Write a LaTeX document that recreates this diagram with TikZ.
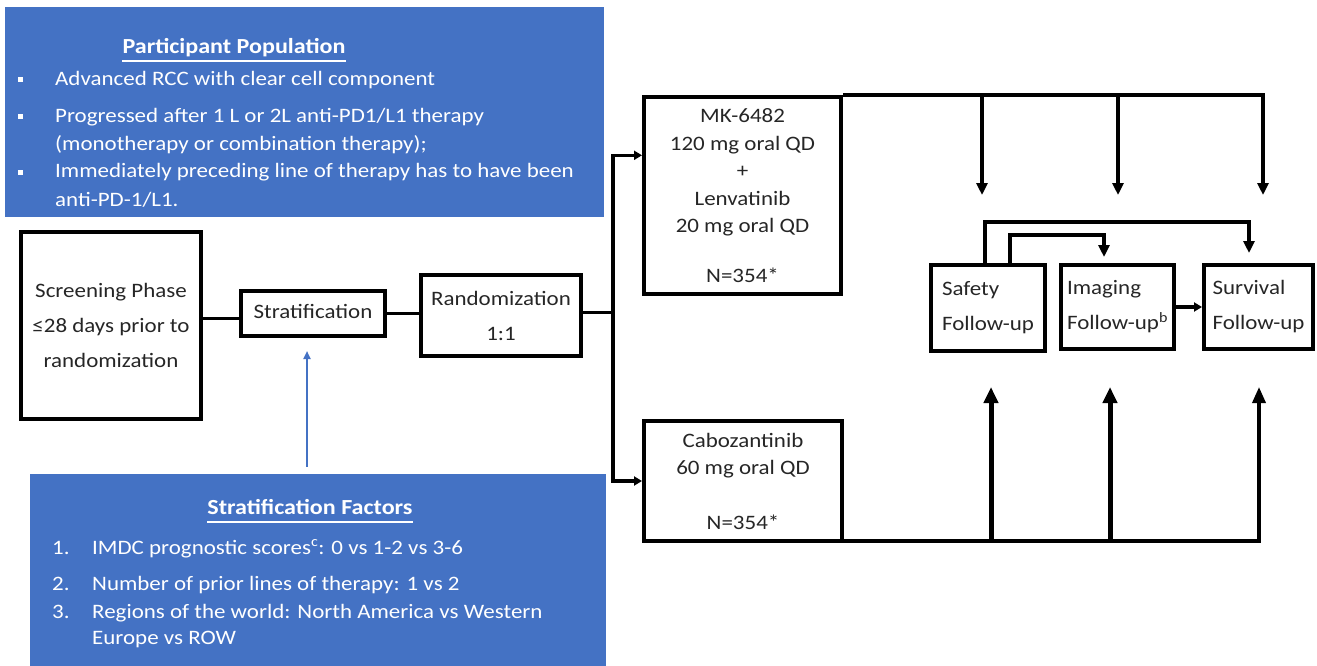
\documentclass[tikz,border=0pt]{standalone}
\usepackage{fontspec}
\setmainfont{Carlito}[FakeStretch=1.12]
\usetikzlibrary{arrows.meta,calc}
\definecolor{ob}{HTML}{4472C4}
\definecolor{txt}{HTML}{262626}
\newcommand{\fsz}[1]{\fontsize{20.5}{#1}\selectfont}
\begin{document}
\begin{tikzpicture}[x=1pt,y=-1pt,
  box/.style={draw=black,line width=4pt,align=center,text=txt,inner sep=0pt},
  conn/.style={line width=3.5pt,draw=black},
  arr/.style={conn,-{Triangle[width=11pt,length=12pt]}},
  arrsmall/.style={conn,-{Triangle[width=9pt,length=8pt]}},
  arrbig/.style={line width=5pt,draw=black,-{Triangle[width=14pt,length=16pt]}},
  arrthin/.style={line width=3.5pt,draw=black,-{Triangle[width=13pt,length=16pt]}},
  wt/.style={text=white,font=\fsz{27},inner sep=0pt,anchor=base west},
  bul/.style={fill=white,minimum size=5pt,inner sep=0pt},
  panel/.style={fill=ob,inner sep=0pt}]
\useasboundingbox (0,0) rectangle (1317,666);

% panels
\node[panel,minimum width=599pt,minimum height=210pt] (pp) at (304.5,112) {};
\node[panel,minimum width=576pt,minimum height=196pt] (sf) at (318,572) {};

% participant population
\node[wt,anchor=base,font=\fontsize{21.5}{27}\selectfont\bfseries] (ptitle) at (234,54) {Participant Population};
\draw[white,line width=1.5pt] ([yshift=-7pt]ptitle.base west) -- ([yshift=-7pt]ptitle.base east);
\node[bul] (b1) at (20,80) {};
\node[bul] (b2) at (20,117) {};
\node[bul] (b3) at (20,172) {};
\node[wt] (p1) at (55,86) {Advanced RCC with clear cell component};
\node[wt] (p2) at (55,123) {Progressed after 1 L or 2L anti-PD1/L1 therapy};
\node[wt] (p3) at (55,150) {(monotherapy or combination therapy);};
\node[wt] (p4) at (55,178) {Immediately preceding line of therapy has to have been};
\node[wt] (p5) at (55,206) {anti-PD-1/L1.};

% stratification factors
\node[wt,anchor=base,font=\fontsize{21.5}{27}\selectfont\bfseries] (stitle) at (310,514) {Stratification Factors};
\draw[white,line width=1.5pt] ([yshift=-8pt]stitle.base west) -- ([yshift=-8pt]stitle.base east);
\node[wt] (n1) at (52,554) {1.};
\node[wt] (n2) at (52,590) {2.};
\node[wt] (n3) at (52,618) {3.};
\node[wt] (s1) at (92,554) {IMDC prognostic scores\textsuperscript{c}: 0 vs 1-2 vs 3-6};
\node[wt] (s2) at (92,590) {Number of prior lines of therapy: 1 vs 2};
\node[wt] (s3) at (92,618) {Regions of the world: North America vs Western};
\node[wt] (s4) at (92,644) {Europe vs ROW};

% boxes
\node[box,font=\fsz{35},minimum width=180pt,minimum height=187pt] (scr) at (111,325.5)
  {Screening Phase\\≤28 days prior to\\randomization};
\node[box,font=\fsz{35},minimum width=144pt,minimum height=45pt] (strat) at (313,313.5) {\raisebox{5pt}{Stratification}};
\node[box,font=\fsz{35},minimum width=160pt,minimum height=81pt] (rand) at (501,315.5) {Randomization\\1:1};
\node[box,font=\fsz{27.5},minimum width=197pt,minimum height=197pt] (mk) at (742.5,195.5)
  {MK-6482\\120 mg oral QD\\+\\Lenvatinib\\20 mg oral QD\\[22pt]N=354*};
\node[box,font=\fsz{27},minimum width=198pt,minimum height=120pt] (cabo) at (743,481)
  {Cabozantinib\\60 mg oral QD\\[28pt]N=354*};
\node[box,font=\fsz{35},align=left,minimum width=114pt,minimum height=86pt] (safe) at (988,308) {Safety\\Follow-up};
\node[box,font=\fsz{35},align=left,minimum width=113pt,minimum height=84pt] (img) at (1117.5,307) {Imaging\\Follow-up\textsuperscript{b}};
\node[box,font=\fsz{35},align=left,minimum width=109pt,minimum height=84pt] (surv) at (1258.5,307) {Survival\\Follow-up};

% main flow
\draw[conn] ([yshift=-5pt]strat.west -| scr.east) -- ([yshift=-5pt]strat.west);
\draw[conn] (strat.east) -- (strat.east -| rand.west);
\coordinate (split) at ([xshift=30pt,yshift=3pt]rand.east);
\draw[conn] ([yshift=3pt]rand.east) -- (split);
\draw[arrsmall] (split) |- ($(mk.north west)!0.3!(mk.south west)$);
\draw[arrsmall] (split) |- (cabo.west);

% blue arrow
\draw[ob,line width=2pt,-{Triangle[width=7pt,length=8pt]}] ([xshift=-11pt,yshift=7pt]sf.north) -- ([xshift=-6pt,yshift=-13pt]strat.south);

% top distribution line
\coordinate (t1) at ([xshift=139pt]mk.north east);
\coordinate (t2) at ([xshift=275pt]mk.north east);
\coordinate (t3) at ([xshift=420pt]mk.north east);
\coordinate (e1) at ([yshift=-100pt]t1);
\coordinate (e2) at ([yshift=-100pt]t2);
\coordinate (e3) at ([yshift=-100pt]t3);
\draw[arr] (mk.north east) -- (t3) -- (e3);
\draw[arr] (t1) -- (e1);
\draw[arr] (t2) -- (e2);

% bottom distribution line
\coordinate (u1) at ([xshift=147pt,yshift=2pt]cabo.south east);
\coordinate (u2) at ([xshift=266pt,yshift=2pt]cabo.south east);
\coordinate (u3) at ([xshift=415pt,yshift=2pt]cabo.south east);
\coordinate (v1) at ([yshift=154pt]u1);
\coordinate (v2) at ([yshift=154pt]u2);
\coordinate (v3) at ([yshift=154pt]u3);
\draw[arrthin] ([yshift=2pt]cabo.south east) -- (u3) -- (v3);
\draw[arrbig] (u1) -- (v1);
\draw[arrbig] (u2) -- (v2);

% follow-up brackets
\coordinate (sv) at ([xshift=47pt,yshift=10pt]surv.north west);
\coordinate (iv) at ([xshift=45pt,yshift=6pt]img.north west);
\draw[arr] ([xshift=56pt]safe.north west) -- ++(0,-41) -| (sv);
\draw[arr] ([xshift=81pt]safe.north west) -- ++(0,-28) -| (iv);
\draw[arrsmall] (img.east) -- (surv.west);
\end{tikzpicture}
\end{document}
